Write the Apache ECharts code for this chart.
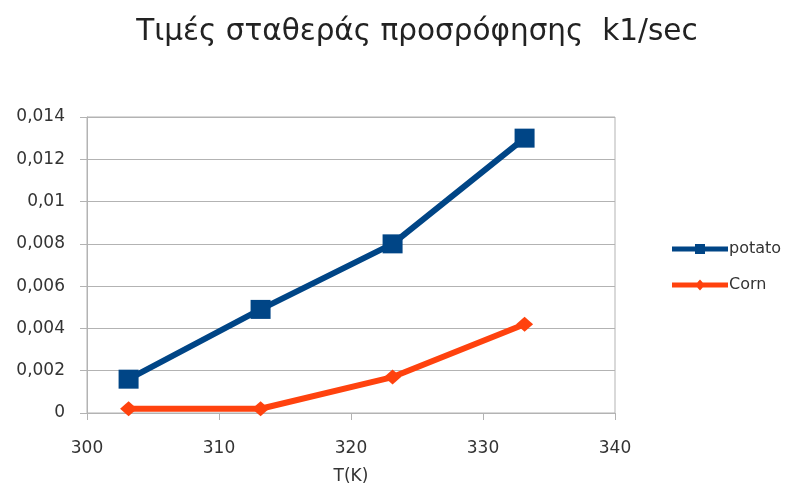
<!DOCTYPE html>
<html>
<head>
<meta charset="utf-8">
<script src="https://cdn.jsdelivr.net/npm/echarts@6/dist/echarts.min.js"></script>
<style>
  html, body { margin: 0; padding: 0; background: #fff; }
  #chart { width: 794px; height: 497px; }
</style>
</head>
<body>
<div id="chart"></div>
<script>
// Temperature (K) and adsorption rate constant k1 (1/sec)
const temperatures = [303.15, 313.15, 323.15, 333.15];
const potatoK1 = [0.0016, 0.0049, 0.008, 0.013];
const cornK1 = [0.0002, 0.0002, 0.0017, 0.0042];
const seriesNames = ['potato', 'Corn'];
const titleText = 'Τιμές σταθεράς προσρόφησης  k1/sec';
const xAxisName = 'T(K)';

const pairs = (xs, ys) => xs.map((x, i) => [x, ys[i]]);
const commaDecimal = v => String(parseFloat(v.toFixed(4))).replace('.', ',');

const font = 'DejaVu Sans, Verdana, sans-serif';
const textColor = '#333333';
const axisGray = '#b3b3b3';
const potatoColor = '#004586';
const cornColor = '#ff420e';

// Legend keys: a thick line stroke with the series marker in the middle
const squareKey = 'path://M0,4.5L56,4.5L56,9.5L0,9.5Z M23,2L33,2L33,12L23,12Z';
const diamondKey = 'path://M0,4.5L56,4.5L56,9.5L0,9.5Z M28,1.5L33,7L28,12.5L23,7Z';

const chart = echarts.init(document.getElementById('chart'), null, { renderer: 'canvas' });

chart.setOption({
  backgroundColor: '#ffffff',
  animation: false,
  textStyle: { fontFamily: font },
  title: {
    text: titleText,
    left: 412,
    textAlign: 'center',
    top: 12,
    textStyle: { fontFamily: font, fontSize: 29.5, fontWeight: 'normal', color: '#222222' }
  },
  legend: {
    orient: 'vertical',
    left: 667,
    top: 236,
    itemGap: 20,
    itemWidth: 56,
    itemHeight: 14,
    textStyle: { fontFamily: font, fontSize: 16, color: textColor, padding: [0, 0, 0, -4] },
    data: [
      { name: seriesNames[0], icon: squareKey },
      { name: seriesNames[1], icon: diamondKey }
    ]
  },
  grid: {
    left: 87, right: 179, top: 117, bottom: 84,
    show: true, borderColor: axisGray, borderWidth: 1
  },
  xAxis: {
    type: 'value',
    min: 300, max: 340, interval: 10,
    name: xAxisName,
    nameLocation: 'middle',
    nameGap: 55,
    nameTextStyle: { fontFamily: font, fontSize: 17, color: textColor },
    axisLine: { lineStyle: { color: axisGray } },
    axisTick: { show: true, length: 7, lineStyle: { color: axisGray } },
    axisLabel: { fontFamily: font, fontSize: 17, color: textColor, margin: 27 },
    splitLine: { show: false }
  },
  yAxis: {
    type: 'value',
    min: 0, max: 0.014, interval: 0.002,
    axisLine: { show: true, lineStyle: { color: axisGray } },
    axisTick: { show: true, length: 7, lineStyle: { color: axisGray } },
    axisLabel: { fontFamily: font, fontSize: 17, color: textColor, margin: 22, formatter: commaDecimal },
    splitLine: { lineStyle: { color: axisGray } }
  },
  series: [
    {
      name: seriesNames[0],
      type: 'line',
      data: pairs(temperatures, potatoK1),
      symbol: 'rect',
      symbolSize: [20, 19],
      lineStyle: { width: 6, color: potatoColor },
      itemStyle: { color: potatoColor }
    },
    {
      name: seriesNames[1],
      type: 'line',
      data: pairs(temperatures, cornK1),
      symbol: 'diamond',
      symbolSize: [17, 15],
      lineStyle: { width: 6, color: cornColor },
      itemStyle: { color: cornColor }
    }
  ]
});
</script>
</body>
</html>
